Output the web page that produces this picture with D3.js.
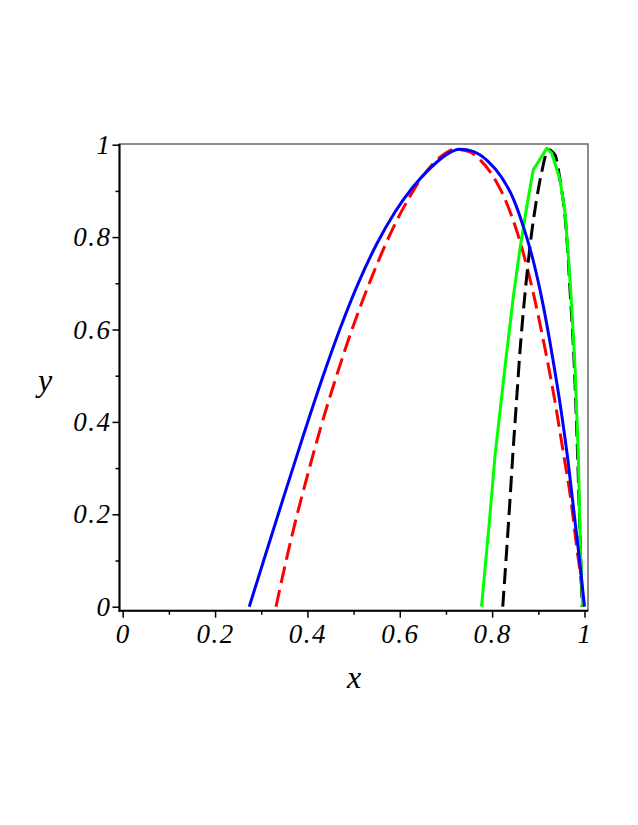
<!DOCTYPE html>
<html>
<head>
<meta charset="utf-8">
<script src="https://cdn.jsdelivr.net/npm/d3@7"></script>
<style>
  body { margin: 0; background: #fff; }
  svg { display: block; }
</style>
</head>
<body>
<div id="chart"></div>
<script>
var w = 638;
var h = 825;

// values, [x, y]
var blueCurve = [[0.274,0],[0.31,0.115],[0.35,0.242],[0.39,0.367],[0.43,0.488],[0.47,0.6],[0.51,0.7],[0.55,0.785],[0.59,0.855],[0.63,0.91],[0.67,0.953],[0.70,0.978],[0.73,0.99],[0.76,0.985],[0.79,0.965],[0.82,0.93],[0.845,0.885],[0.87,0.815],[0.89,0.745],[0.91,0.655],[0.93,0.545],[0.95,0.42],[0.965,0.31],[0.98,0.18],[0.99,0.095],[1.0,0]];
var redCurve = [[0.332,0],[0.345,0.06],[0.37,0.168],[0.4,0.284],[0.43,0.392],[0.46,0.49],[0.5,0.61],[0.54,0.715],[0.58,0.808],[0.62,0.885],[0.66,0.945],[0.69,0.975],[0.72,0.99],[0.75,0.985],[0.775,0.966],[0.8,0.935],[0.83,0.877],[0.855,0.808],[0.875,0.737],[0.89,0.675],[0.915,0.556],[0.935,0.45],[0.955,0.328],[0.97,0.235],[0.983,0.13],[0.993,0.05],[0.997,0]];
var greenCurve = [[0.777,0],[0.795,0.195],[0.806,0.325],[0.828,0.52],[0.846,0.672],[0.86,0.773],[0.875,0.866],[0.889,0.946],[0.8965,0.957],[0.918,0.992],[0.929,0.982],[0.947,0.924],[0.958,0.852],[0.965,0.758],[0.971,0.672],[0.9794,0.52],[0.9866,0.325],[0.991,0.13],[0.996,0]];
var blackCurve = [[0.823,0],[0.8315,0.123],[0.8387,0.232],[0.8445,0.325],[0.853,0.448],[0.86,0.549],[0.869,0.655],[0.877,0.735],[0.885,0.805],[0.895,0.874],[0.907,0.939],[0.9216,0.989],[0.936,0.978],[0.947,0.924],[0.961,0.809],[0.969,0.68],[0.978,0.52],[0.985,0.33],[0.991,0.13],[0.995,0]];

var majorTicks = [0, 0.2, 0.4, 0.6, 0.8, 1];
var minorTicks = [0.1, 0.3, 0.5, 0.7, 0.9];
var tickLabels = ["0", "0.2", "0.4", "0.6", "0.8", "1"];

var x = d3.scaleLinear().domain([0, 1]).range([122.7, 584.5]);
var y = d3.scaleLinear().domain([0, 1]).range([606.7, 144.7]);

var axLeft = 119.5, axBottom = 610.7, frTop = 144, frRight = 588;
var serif = "'Liberation Serif', 'Times New Roman', serif";

var svg = d3.select("#chart").append("svg")
  .attr("width", w).attr("height", h)
  .attr("viewBox", "0 0 " + w + " " + h);

// frame
svg.append("rect")
  .attr("x", axLeft).attr("y", frTop)
  .attr("width", frRight - axLeft).attr("height", axBottom - frTop)
  .attr("fill", "none").attr("stroke", "#666").attr("stroke-width", 1.5);

var smooth = d3.line().x(d => x(d[0])).y(d => y(d[1])).curve(d3.curveMonotoneX);
var straight = d3.line().x(d => x(d[0])).y(d => y(d[1]));

var series = [
  {data: redCurve, color: "#ff0000", dash: "17,7", line: smooth},
  {data: blackCurve, color: "#000000", dash: "16,7", line: smooth},
  {data: greenCurve, color: "#00ff00", dash: null, line: straight},
  {data: blueCurve, color: "#0000ff", dash: null, line: smooth}
];

svg.append("g").selectAll("path")
  .data(series)
  .join("path")
  .attr("d", d => d.line(d.data))
  .attr("fill", "none")
  .attr("stroke", d => d.color)
  .attr("stroke-width", 3)
  .attr("stroke-dasharray", d => d.dash)
  .attr("stroke-linejoin", "round");

function fmt(d) { return tickLabels[majorTicks.indexOf(d)]; }

// y axis
var gy = svg.append("g").attr("transform", "translate(" + axLeft + ",0)");
gy.append("g").call(d3.axisLeft(y).tickValues(majorTicks).tickSize(7).tickPadding(1).tickFormat(fmt))
  .call(g => g.select(".domain").remove())
  .selectAll("text").attr("font-family", serif).attr("font-style", "italic")
  .attr("font-size", 27).attr("letter-spacing", 1.5).attr("fill", "#000");
gy.append("g").call(d3.axisLeft(y).tickValues(minorTicks).tickSize(4).tickFormat(""))
  .call(g => g.select(".domain").remove());
gy.selectAll("line").attr("stroke", "#000").attr("stroke-width", 1.5);

// x axis
var gx = svg.append("g").attr("transform", "translate(0," + axBottom + ")");
gx.append("g").call(d3.axisBottom(x).tickValues(majorTicks).tickSize(7).tickPadding(6).tickFormat(fmt))
  .call(g => g.select(".domain").remove())
  .selectAll("text").attr("font-family", serif).attr("font-style", "italic")
  .attr("font-size", 27).attr("letter-spacing", 1.5).attr("fill", "#000");
gx.append("g").call(d3.axisBottom(x).tickValues(minorTicks).tickSize(4).tickFormat(""))
  .call(g => g.select(".domain").remove());
gx.selectAll("line").attr("stroke", "#000").attr("stroke-width", 1.5);

// axis lines
svg.append("line").attr("x1", axLeft).attr("x2", axLeft).attr("y1", frTop).attr("y2", axBottom + 1)
  .attr("stroke", "#000").attr("stroke-width", 2);
svg.append("line").attr("x1", axLeft - 1).attr("x2", frRight).attr("y1", axBottom).attr("y2", axBottom)
  .attr("stroke", "#000").attr("stroke-width", 2);

// axis titles
svg.append("text").attr("x", 354).attr("y", 688)
  .attr("text-anchor", "middle")
  .attr("font-family", serif).attr("font-style", "italic")
  .attr("font-size", 32).text("x");
svg.append("text").attr("x", 45).attr("y", 391)
  .attr("text-anchor", "middle")
  .attr("font-family", serif).attr("font-style", "italic")
  .attr("font-size", 32).text("y");
</script>
</body>
</html>
